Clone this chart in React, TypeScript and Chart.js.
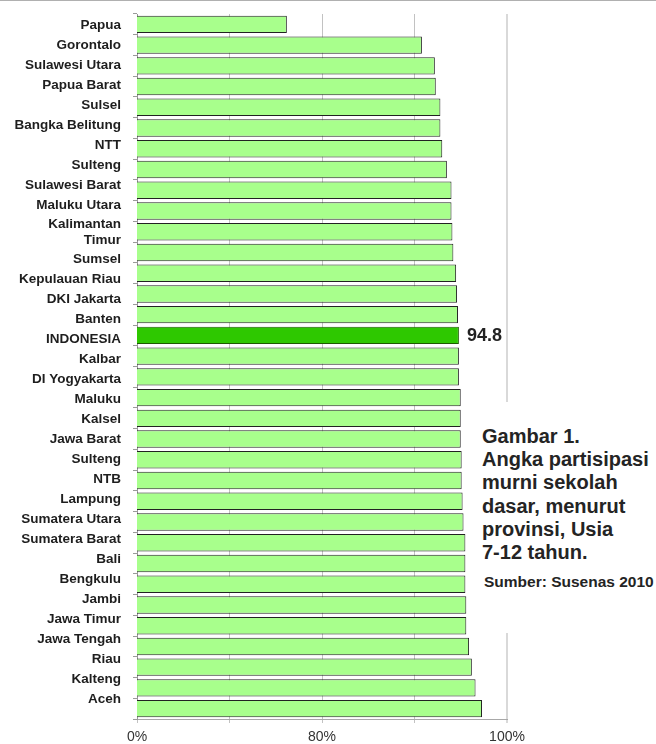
import React, { useEffect, useRef } from "react";
import { Chart, registerables } from "chart.js";

Chart.register(...registerables);

// ---- data ----
const provinces: (string | string[])[] = [
  "Papua", "Gorontalo", "Sulawesi Utara", "Papua Barat", "Sulsel", "Bangka Belitung",
  "NTT", "Sulteng", "Sulawesi Barat", "Maluku Utara", ["Kalimantan", "Timur"], "Sumsel",
  "Kepulauan Riau", "DKI Jakarta", "Banten", "INDONESIA", "Kalbar", "DI Yogyakarta",
  "Maluku", "Kalsel", "Jawa Barat", "Sulteng", "NTB", "Lampung", "Sumatera Utara",
  "Sumatera Barat", "Bali", "Bengkulu", "Jambi", "Jawa Timur", "Jawa Tengah", "Riau",
  "Kalteng", "Aceh",
];
const apmValues: number[] = [
  76.2, 90.8, 92.2, 92.3, 92.8, 92.8, 93.0, 93.5, 94.0, 94.0, 94.1, 94.2, 94.5, 94.6,
  94.7, 94.8, 94.8, 94.8, 95.0, 95.0, 95.0, 95.1, 95.1, 95.2, 95.3, 95.5, 95.5, 95.5,
  95.6, 95.6, 95.9, 96.2, 96.6, 97.3,
];
const highlightLabel = "INDONESIA";
const xTickValues: number[] = [60, 70, 80, 90, 100];
const xTickLabels: string[] = ["0%", "", "80%", "", "100%"];
const titleLines: string[] = [
  "Gambar 1.", "Angka partisipasi", "murni sekolah", "dasar, menurut", "provinsi, Usia", "7-12 tahun.",
];
const sourceText = "Sumber: Susenas 2010";

const FONT = "'Liberation Sans', Arial, Helvetica, sans-serif";

// the province names are set as a text column: one slot per name, a wrapped name takes extra room
const EXTRA_LINE_SLOTS = 0.72;
function labelSlots(): number[] {
  const out: number[] = [];
  let shift = 0;
  provinces.forEach((p, i) => {
    const extra = Array.isArray(p) ? (p.length - 1) * EXTRA_LINE_SLOTS : 0;
    out.push(i + shift + extra / 2);
    shift += extra;
  });
  return out;
}

const valueLabelPlugin = {
  id: "valueLabel",
  afterDatasetsDraw(chart: any) {
    const idx = provinces.indexOf(highlightLabel);
    const el = chart.getDatasetMeta(0).data[idx];
    if (!el) return;
    const ctx = chart.ctx;
    ctx.save();
    ctx.font = `bold 18px ${FONT}`;
    ctx.fillStyle = "#222222";
    ctx.textAlign = "left";
    ctx.textBaseline = "middle";
    ctx.fillText(apmValues[idx].toFixed(1), el.x + 8, el.y + 1);
    ctx.restore();
  },
};

export default function App() {
  const canvasRef = useRef<HTMLCanvasElement | null>(null);

  useEffect(() => {
    if (!canvasRef.current) return;
    Chart.defaults.font.family = FONT;
    const hi = provinces.indexOf(highlightLabel);
    const slots = labelSlots();
    const chart = new Chart(canvasRef.current, {
      type: "bar",
      data: {
        labels: provinces as any,
        datasets: [
          {
            data: apmValues,
            backgroundColor: apmValues.map((_, i) => (i === hi ? "#2ec800" : "#a8ff8c")),
            borderColor: apmValues.map((_, i) => (i === hi ? "#1c5a00" : "#222222")),
            borderWidth: 1,
            borderSkipped: false,
            barPercentage: 0.84,
            categoryPercentage: 1,
          },
        ],
      },
      options: {
        indexAxis: "y",
        responsive: false,
        animation: false,
        layout: { padding: { top: 14, right: 149, bottom: 0, left: 0 } },
        plugins: {
          legend: { display: false },
          tooltip: { enabled: false },
          title: { display: false },
        },
        scales: {
          x: {
            type: "linear",
            position: "bottom",
            min: 60,
            max: 100,
            afterBuildTicks: (s: any) => {
              s.ticks = xTickValues.map((v) => ({ value: v }));
            },
            afterFit: (s: any) => {
              s.height = 25;
            },
            grid: {
              color: (c: any) => (c.tick && c.tick.value === 100 ? "#d9d9d9" : "#c2c2c2"),
              lineWidth: (c: any) => (c.tick && c.tick.value === 100 ? 2 : 1),
              tickLength: 4,
            },
            border: { display: true, color: "#a8a8a8", width: 1 },
            ticks: {
              autoSkip: false,
              maxRotation: 0,
              padding: 6,
              color: "#333333",
              font: { size: 14 },
              callback: (v: any) => {
                const i = xTickValues.indexOf(Number(v));
                return i >= 0 ? xTickLabels[i] : "";
              },
            },
          },
          y: {
            type: "category",
            position: "left",
            weight: 0,
            offset: true,
            afterFit: (s: any) => {
              s.width = 4;
              s.paddingTop = 0;
              s.paddingBottom = 0;
            },
            grid: { drawOnChartArea: false, offset: true, tickLength: 4, color: "#9a9a9a" },
            border: { display: true, color: "#9a9a9a", width: 1 },
            ticks: { display: false },
          },
          yl: {
            type: "linear",
            position: "left",
            weight: 1,
            reverse: true,
            offset: false,
            beginAtZero: false,
            min: -0.54,
            max: 34.71,
            afterBuildTicks: (s: any) => {
              s.ticks = slots.map((p) => ({ value: p }));
            },
            afterFit: (s: any) => {
              s.width = 133;
              s.paddingTop = 0;
              s.paddingBottom = 0;
            },
            grid: { display: false, drawTicks: false, offset: false },
            border: { display: false },
            ticks: {
              autoSkip: false,
              padding: 12,
              color: "#1e1e1e",
              font: { size: 13.5, weight: "bold" },
              callback: (_v: any, index: number) => provinces[index] as any,
            },
          },
        } as any,
      },
      plugins: [valueLabelPlugin],
    });
    return () => chart.destroy();
  }, []);

  return (
    <div
      style={{
        position: "absolute",
        left: 0,
        top: 0,
        width: 656,
        height: 744,
        overflow: "hidden",
        background: "#ffffff",
      }}
    >
      <canvas
        ref={canvasRef}
        width={656}
        height={744}
        style={{ position: "absolute", left: 0, top: 0, width: 656, height: 744 }}
      />
      <div style={{ position: "absolute", left: 0, top: 0, width: 656, height: 1, background: "#b0b0b0" }} />
      <div
        style={{
          position: "absolute",
          left: 476,
          top: 402,
          width: 180,
          height: 231,
          background: "#ffffff",
          fontFamily: FONT,
          color: "#242424",
        }}
      >
        <div style={{ position: "absolute", left: 6, top: 22.7 }}>
          {titleLines.map((t, i) => (
            <div
              key={i}
              style={{ fontSize: 20, fontWeight: "bold", lineHeight: "23.3px", whiteSpace: "nowrap" }}
            >
              {t}
            </div>
          ))}
        </div>
        <div
          style={{
            position: "absolute",
            left: 8,
            top: 171.5,
            fontSize: 15.5,
            fontWeight: "bold",
            lineHeight: "16px",
            whiteSpace: "nowrap",
          }}
        >
          {sourceText}
        </div>
      </div>
    </div>
  );
}
